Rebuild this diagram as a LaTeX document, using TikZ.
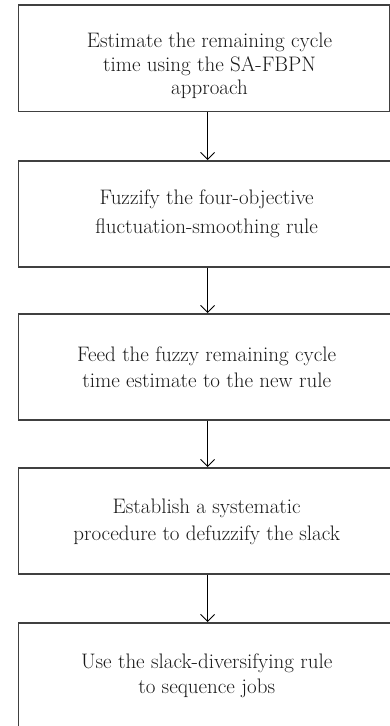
\documentclass[tikz,border=0pt]{standalone}
\usetikzlibrary{arrows.meta}
\begin{document}
\begin{tikzpicture}[x=1pt,y=-1pt,
  box/.style={draw=black!75, line width=1.6pt, minimum width=378.5pt, minimum height=106pt, inner sep=0pt, anchor=north west},
  txt/.style={align=center, inner sep=0pt, text=black!90, font=\fontsize{21}{25}\selectfont},
  arr/.style={draw=black, line width=0.9pt, -{Straight Barb[length=7pt,width=14pt]}}]
\useasboundingbox (0,0) rectangle (390,726);
\clip (0,0) rectangle (390,726);
\node[box, minimum width=371.5pt, minimum height=106.5pt] (b1) at (17.5,4) {};
\node[box] (b2) at (17.5,160) {};
\node[box] (b3) at (17.5,313) {};
\node[box] (b4) at (17.5,467) {};
\node[box] (b5) at (17.5,622) {};
\node[txt, font=\fontsize{21}{23.5}\selectfont] (t1) at (209.5,66) {Estimate the remaining cycle\\time using the SA-FBPN\\approach};
\node[txt, font=\fontsize{21}{29.5}\selectfont] (t2) at (206.7,214) {Fuzzify the four-objective\\fluctuation-smoothing rule};
\node[txt, font=\fontsize{21}{26.5}\selectfont] (t3) at (206.7,367) {Feed the fuzzy remaining cycle\\time estimate to the new rule};
\node[txt, font=\fontsize{21}{27}\selectfont] (t4) at (206.7,522) {Establish a systematic\\procedure to defuzzify the slack};
\node[txt, font=\fontsize{21}{25}\selectfont] (t5) at (206.7,676) {Use the slack-diversifying rule\\to sequence jobs};
\draw[arr] (b1.south -| b2.north) -- (b2.north);
\draw[arr] (b2.south) -- (b3.north);
\draw[arr] (b3.south) -- (b4.north);
\draw[arr] (b4.south) -- (b5.north);
\end{tikzpicture}
\end{document}
